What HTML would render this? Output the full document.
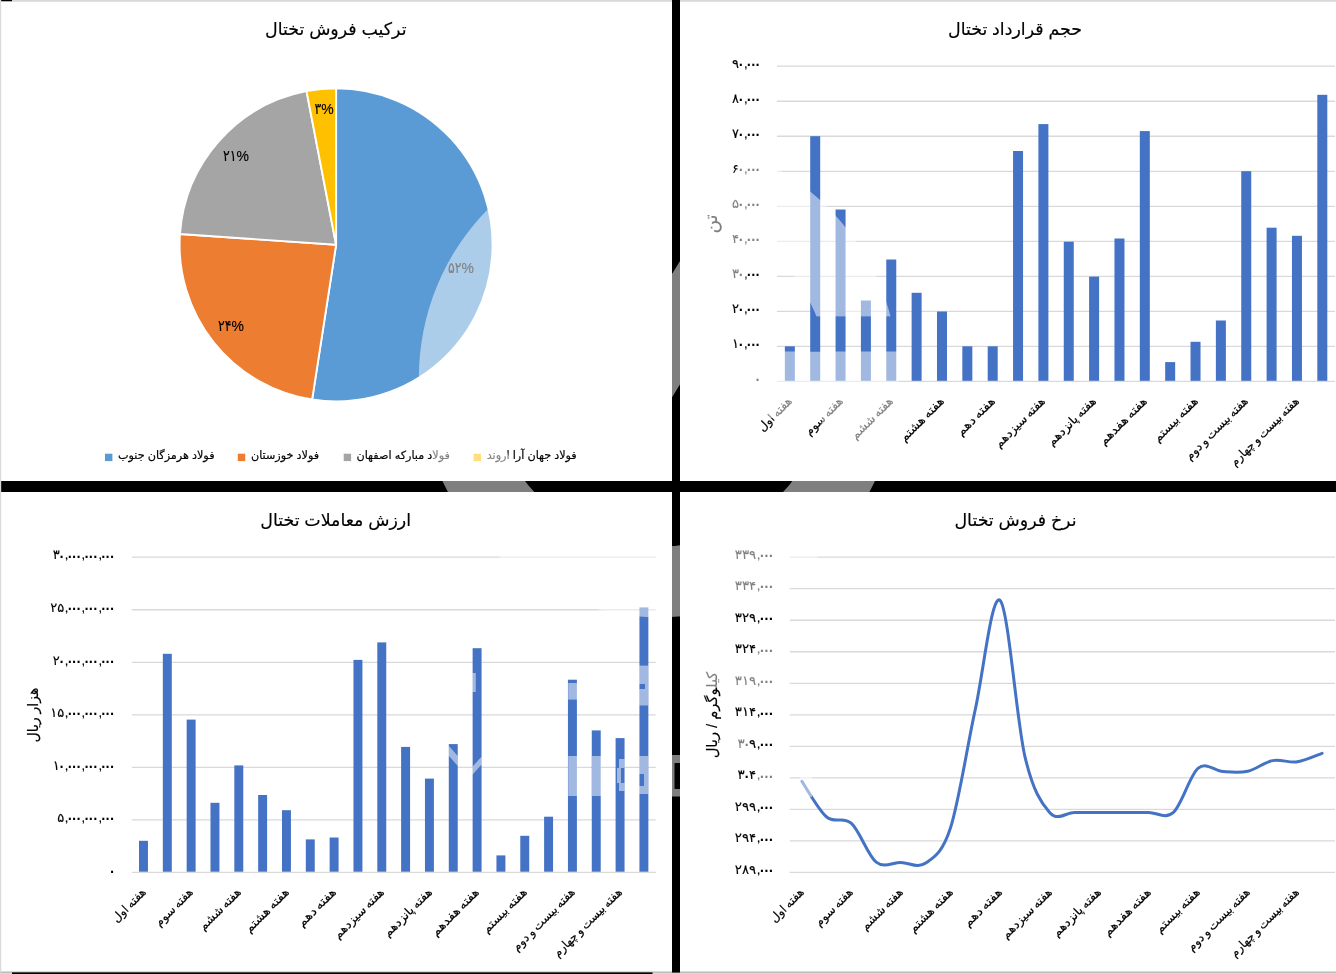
<!DOCTYPE html>
<html lang="fa"><head><meta charset="utf-8"><title>تختال</title>
<style>
html,body{margin:0;padding:0;background:#000;}
body{width:1336px;height:974px;position:relative;overflow:hidden;font-family:'Liberation Sans','DejaVu Sans',sans-serif;}
svg{position:absolute;left:0;top:0;}
.t{position:absolute;white-space:nowrap;line-height:1;font-family:'Liberation Sans','DejaVu Sans',sans-serif;-webkit-text-stroke:.17px currentColor;}
.c{transform:translate(-50%,-50%);}
.p{transform:translate(-50%,-50%) scaleX(.9);font-family:'Liberation Sans','DejaVu Sans Condensed',sans-serif;}
.r{transform-origin:100% 50%;}
.n{display:inline-block;width:7px;text-indent:-.6px;}
.z{display:inline-block;width:4.4px;font-size:1.45em;line-height:0;position:relative;top:2.3px;text-indent:-3.8px;-webkit-text-stroke:0;}
.l{transform:translate(0,-50%);}
.d{word-spacing:-1px;transform:translate(-100%,-50%) rotate(-45deg);transform-origin:100% 50%;}
.v{transform:translate(-50%,-50%) rotate(-90deg);}
#wm{pointer-events:none;}
</style></head><body>
<svg width="1336" height="974" viewBox="0 0 1336 974">
<rect x="0.00" y="0.00" width="672.00" height="481.00" fill="#fff" />
<rect x="680.00" y="0.00" width="656.00" height="481.00" fill="#fff" />
<rect x="0.00" y="492.00" width="672.00" height="480.40" fill="#fff" />
<rect x="680.00" y="492.00" width="656.00" height="480.40" fill="#fff" />
<rect x="0.00" y="0.00" width="1336.00" height="1.80" fill="#d9d9d9" />
<rect x="0.00" y="0.00" width="12.00" height="1.20" fill="#000" />
<rect x="0.00" y="0.00" width="1.20" height="972.40" fill="#d9d9d9" />
<rect x="0.00" y="971.00" width="672.00" height="1.40" fill="#d9d9d9" />
<rect x="680.00" y="971.00" width="656.00" height="1.40" fill="#d9d9d9" />
<rect x="0.00" y="972.40" width="1336.00" height="1.60" fill="#d9d9d9" />
<rect x="12.00" y="972.40" width="640.50" height="1.60" fill="#000" />
<rect x="672.00" y="0.00" width="8.00" height="972.40" fill="#000" />
<path d="M336.10,244.80 L336.10,88.30 A156.5,156.5 0 1 1 312.16,399.46 Z" fill="#5b9bd5" stroke="#fff" stroke-width="1.9" stroke-linejoin="round"/>
<path d="M336.10,244.80 L312.16,399.46 A156.5,156.5 0 0 1 179.97,234.02 Z" fill="#ed7d31" stroke="#fff" stroke-width="1.9" stroke-linejoin="round"/>
<path d="M336.10,244.80 L179.97,234.02 A156.5,156.5 0 0 1 306.51,91.12 Z" fill="#a5a5a5" stroke="#fff" stroke-width="1.9" stroke-linejoin="round"/>
<path d="M336.10,244.80 L306.51,91.12 A156.5,156.5 0 0 1 336.10,88.30 Z" fill="#ffc000" stroke="#fff" stroke-width="1.9" stroke-linejoin="round"/>
<rect x="105.00" y="453.70" width="7.40" height="7.40" fill="#5b9bd5" />
<rect x="237.80" y="453.70" width="7.40" height="7.40" fill="#ed7d31" />
<rect x="343.70" y="453.70" width="7.40" height="7.40" fill="#a5a5a5" />
<rect x="473.60" y="453.70" width="7.40" height="7.40" fill="#ffc000" />
<line x1="776.90" x2="1335.00" y1="381.40" y2="381.40" stroke="#d9d9d9" stroke-width="1.3"/>
<line x1="776.90" x2="1335.00" y1="346.38" y2="346.38" stroke="#d9d9d9" stroke-width="1.3"/>
<line x1="776.90" x2="1335.00" y1="311.36" y2="311.36" stroke="#d9d9d9" stroke-width="1.3"/>
<line x1="776.90" x2="1335.00" y1="276.34" y2="276.34" stroke="#d9d9d9" stroke-width="1.3"/>
<line x1="776.90" x2="1335.00" y1="241.32" y2="241.32" stroke="#d9d9d9" stroke-width="1.3"/>
<line x1="776.90" x2="1335.00" y1="206.30" y2="206.30" stroke="#d9d9d9" stroke-width="1.3"/>
<line x1="776.90" x2="1335.00" y1="171.28" y2="171.28" stroke="#d9d9d9" stroke-width="1.3"/>
<line x1="776.90" x2="1335.00" y1="136.26" y2="136.26" stroke="#d9d9d9" stroke-width="1.3"/>
<line x1="776.90" x2="1335.00" y1="101.24" y2="101.24" stroke="#d9d9d9" stroke-width="1.3"/>
<line x1="776.90" x2="1335.00" y1="66.22" y2="66.22" stroke="#d9d9d9" stroke-width="1.3"/>
<rect x="784.85" y="346.30" width="10.00" height="34.50" fill="#4472c4" />
<rect x="810.21" y="136.20" width="10.00" height="244.60" fill="#4472c4" />
<rect x="835.56" y="209.50" width="10.00" height="171.30" fill="#4472c4" />
<rect x="860.91" y="300.50" width="10.00" height="80.30" fill="#4472c4" />
<rect x="886.27" y="259.50" width="10.00" height="121.30" fill="#4472c4" />
<rect x="911.62" y="292.80" width="10.00" height="88.00" fill="#4472c4" />
<rect x="936.98" y="311.50" width="10.00" height="69.30" fill="#4472c4" />
<rect x="962.34" y="346.30" width="10.00" height="34.50" fill="#4472c4" />
<rect x="987.69" y="346.30" width="10.00" height="34.50" fill="#4472c4" />
<rect x="1013.05" y="151.00" width="10.00" height="229.80" fill="#4472c4" />
<rect x="1038.40" y="124.10" width="10.00" height="256.70" fill="#4472c4" />
<rect x="1063.76" y="241.70" width="10.00" height="139.10" fill="#4472c4" />
<rect x="1089.11" y="276.60" width="10.00" height="104.20" fill="#4472c4" />
<rect x="1114.47" y="238.50" width="10.00" height="142.30" fill="#4472c4" />
<rect x="1139.82" y="131.10" width="10.00" height="249.70" fill="#4472c4" />
<rect x="1165.17" y="362.10" width="10.00" height="18.70" fill="#4472c4" />
<rect x="1190.53" y="341.80" width="10.00" height="39.00" fill="#4472c4" />
<rect x="1215.88" y="320.50" width="10.00" height="60.30" fill="#4472c4" />
<rect x="1241.24" y="171.20" width="10.00" height="209.60" fill="#4472c4" />
<rect x="1266.60" y="227.70" width="10.00" height="153.10" fill="#4472c4" />
<rect x="1291.95" y="235.80" width="10.00" height="145.00" fill="#4472c4" />
<rect x="1317.31" y="94.80" width="10.00" height="286.00" fill="#4472c4" />
<line x1="131.80" x2="655.80" y1="872.40" y2="872.40" stroke="#d9d9d9" stroke-width="1.3"/>
<line x1="131.80" x2="655.80" y1="819.87" y2="819.87" stroke="#d9d9d9" stroke-width="1.3"/>
<line x1="131.80" x2="655.80" y1="767.34" y2="767.34" stroke="#d9d9d9" stroke-width="1.3"/>
<line x1="131.80" x2="655.80" y1="714.81" y2="714.81" stroke="#d9d9d9" stroke-width="1.3"/>
<line x1="131.80" x2="655.80" y1="662.28" y2="662.28" stroke="#d9d9d9" stroke-width="1.3"/>
<line x1="131.80" x2="655.80" y1="609.75" y2="609.75" stroke="#d9d9d9" stroke-width="1.3"/>
<line x1="131.80" x2="655.80" y1="557.22" y2="557.22" stroke="#d9d9d9" stroke-width="1.3"/>
<rect x="139.00" y="840.80" width="8.95" height="30.90" fill="#4472c4" />
<rect x="162.83" y="653.80" width="8.95" height="217.90" fill="#4472c4" />
<rect x="186.66" y="719.60" width="8.95" height="152.10" fill="#4472c4" />
<rect x="210.49" y="802.80" width="8.95" height="68.90" fill="#4472c4" />
<rect x="234.32" y="765.40" width="8.95" height="106.30" fill="#4472c4" />
<rect x="258.15" y="795.00" width="8.95" height="76.70" fill="#4472c4" />
<rect x="281.98" y="810.20" width="8.95" height="61.50" fill="#4472c4" />
<rect x="305.81" y="839.40" width="8.95" height="32.30" fill="#4472c4" />
<rect x="329.64" y="837.50" width="8.95" height="34.20" fill="#4472c4" />
<rect x="353.47" y="659.90" width="8.95" height="211.80" fill="#4472c4" />
<rect x="377.30" y="642.40" width="8.95" height="229.30" fill="#4472c4" />
<rect x="401.13" y="746.90" width="8.95" height="124.80" fill="#4472c4" />
<rect x="424.96" y="778.60" width="8.95" height="93.10" fill="#4472c4" />
<rect x="448.79" y="744.10" width="8.95" height="127.60" fill="#4472c4" />
<rect x="472.62" y="648.20" width="8.95" height="223.50" fill="#4472c4" />
<rect x="496.45" y="855.40" width="8.95" height="16.30" fill="#4472c4" />
<rect x="520.28" y="835.80" width="8.95" height="35.90" fill="#4472c4" />
<rect x="544.11" y="816.70" width="8.95" height="55.00" fill="#4472c4" />
<rect x="567.94" y="679.70" width="8.95" height="192.00" fill="#4472c4" />
<rect x="591.77" y="730.40" width="8.95" height="141.30" fill="#4472c4" />
<rect x="615.60" y="738.10" width="8.95" height="133.60" fill="#4472c4" />
<rect x="639.43" y="607.40" width="8.95" height="264.30" fill="#4472c4" />
<line x1="789.70" x2="1335.00" y1="872.40" y2="872.40" stroke="#d9d9d9" stroke-width="1.3"/>
<line x1="789.70" x2="1335.00" y1="840.88" y2="840.88" stroke="#d9d9d9" stroke-width="1.3"/>
<line x1="789.70" x2="1335.00" y1="809.36" y2="809.36" stroke="#d9d9d9" stroke-width="1.3"/>
<line x1="789.70" x2="1335.00" y1="777.84" y2="777.84" stroke="#d9d9d9" stroke-width="1.3"/>
<line x1="789.70" x2="1335.00" y1="746.32" y2="746.32" stroke="#d9d9d9" stroke-width="1.3"/>
<line x1="789.70" x2="1335.00" y1="714.80" y2="714.80" stroke="#d9d9d9" stroke-width="1.3"/>
<line x1="789.70" x2="1335.00" y1="683.28" y2="683.28" stroke="#d9d9d9" stroke-width="1.3"/>
<line x1="789.70" x2="1335.00" y1="651.76" y2="651.76" stroke="#d9d9d9" stroke-width="1.3"/>
<line x1="789.70" x2="1335.00" y1="620.24" y2="620.24" stroke="#d9d9d9" stroke-width="1.3"/>
<line x1="789.70" x2="1335.00" y1="588.72" y2="588.72" stroke="#d9d9d9" stroke-width="1.3"/>
<line x1="789.70" x2="1335.00" y1="557.20" y2="557.20" stroke="#d9d9d9" stroke-width="1.3"/>
<path d="M801.90,781.30 C806.03,787.25 818.41,809.98 826.67,817.00 C834.93,824.02 843.18,815.88 851.44,823.40 C859.70,830.92 867.95,855.60 876.21,862.10 C884.47,868.60 892.72,862.23 900.98,862.40 C909.24,862.57 917.49,868.87 925.75,863.10 C934.01,857.33 942.26,853.42 950.52,827.80 C958.78,802.18 967.03,747.30 975.29,709.40 C983.55,671.50 991.80,592.62 1000.06,600.40 C1008.32,608.18 1016.57,720.77 1024.83,756.10 C1033.09,791.43 1041.34,803.02 1049.60,812.40 C1057.86,821.78 1066.11,812.40 1074.37,812.40 C1082.63,812.40 1090.88,812.40 1099.14,812.40 C1107.40,812.40 1115.65,812.40 1123.91,812.40 C1132.17,812.40 1140.42,812.40 1148.68,812.40 C1156.94,812.40 1165.19,819.77 1173.45,812.40 C1181.71,805.03 1189.96,775.00 1198.22,768.20 C1206.48,761.40 1214.73,771.10 1222.99,771.60 C1231.25,772.10 1239.50,773.03 1247.76,771.20 C1256.02,769.37 1264.27,762.17 1272.53,760.60 C1280.79,759.03 1289.04,763.02 1297.30,761.80 C1305.56,760.58 1317.94,754.72 1322.07,753.30" fill="none" stroke="#4472c4" stroke-width="3.0" stroke-linecap="round" stroke-linejoin="round"/>
</svg>
<div class="t c " dir="rtl" style="left:335.8px;top:30.1px;font-size:17.4px;color:#000">ترکیب فروش تختال</div>
<div class="t c p" dir="ltr" style="left:460.6px;top:268.4px;font-size:15.5px;color:#000">۵۲%</div>
<div class="t c p" dir="ltr" style="left:231.0px;top:325.8px;font-size:15.5px;color:#000">۲۴%</div>
<div class="t c p" dir="ltr" style="left:236.2px;top:156.4px;font-size:15.5px;color:#000">۲۱%</div>
<div class="t c p" dir="ltr" style="left:323.7px;top:109.4px;font-size:15.5px;color:#000">۳%</div>
<div class="t l" dir="rtl" style="left:118.0px;top:455.6px;font-size:11.2px;color:#000">فولاد هرمزگان جنوب</div>
<div class="t l" dir="rtl" style="left:251.0px;top:455.6px;font-size:11.2px;color:#000">فولاد خوزستان</div>
<div class="t l" dir="rtl" style="left:356.5px;top:455.6px;font-size:11.2px;color:#000">فولاد مبارکه اصفهان</div>
<div class="t l" dir="rtl" style="left:486.7px;top:455.6px;font-size:11.2px;color:#000">فولاد جهان آرا اروند</div>
<div class="t c " dir="rtl" style="left:1015.0px;top:30.1px;font-size:17.4px;color:#000">حجم قرارداد تختال</div>
<div class="t r" dir="ltr" style="left:760.8px;top:377.8px;font-size:13px;transform:translate(-100%,-50%) scaleX(1.0)"><span class="z">۰</span></div>
<div class="t r" dir="ltr" style="left:760.8px;top:342.8px;font-size:13px;transform:translate(-100%,-50%) scaleX(1.0)"><span class="n">۱</span><span class="z">۰</span>,<span class="z">۰</span><span class="z">۰</span><span class="z">۰</span></div>
<div class="t r" dir="ltr" style="left:760.8px;top:307.8px;font-size:13px;transform:translate(-100%,-50%) scaleX(1.0)"><span class="n">۲</span><span class="z">۰</span>,<span class="z">۰</span><span class="z">۰</span><span class="z">۰</span></div>
<div class="t r" dir="ltr" style="left:760.8px;top:272.7px;font-size:13px;transform:translate(-100%,-50%) scaleX(1.0)"><span class="n">۳</span><span class="z">۰</span>,<span class="z">۰</span><span class="z">۰</span><span class="z">۰</span></div>
<div class="t r" dir="ltr" style="left:760.8px;top:237.7px;font-size:13px;transform:translate(-100%,-50%) scaleX(1.0)"><span class="n">۴</span><span class="z">۰</span>,<span class="z">۰</span><span class="z">۰</span><span class="z">۰</span></div>
<div class="t r" dir="ltr" style="left:760.8px;top:202.7px;font-size:13px;transform:translate(-100%,-50%) scaleX(1.0)"><span class="n">۵</span><span class="z">۰</span>,<span class="z">۰</span><span class="z">۰</span><span class="z">۰</span></div>
<div class="t r" dir="ltr" style="left:760.8px;top:167.7px;font-size:13px;transform:translate(-100%,-50%) scaleX(1.0)"><span class="n">۶</span><span class="z">۰</span>,<span class="z">۰</span><span class="z">۰</span><span class="z">۰</span></div>
<div class="t r" dir="ltr" style="left:760.8px;top:132.7px;font-size:13px;transform:translate(-100%,-50%) scaleX(1.0)"><span class="n">۷</span><span class="z">۰</span>,<span class="z">۰</span><span class="z">۰</span><span class="z">۰</span></div>
<div class="t r" dir="ltr" style="left:760.8px;top:97.6px;font-size:13px;transform:translate(-100%,-50%) scaleX(1.0)"><span class="n">۸</span><span class="z">۰</span>,<span class="z">۰</span><span class="z">۰</span><span class="z">۰</span></div>
<div class="t r" dir="ltr" style="left:760.8px;top:62.6px;font-size:13px;transform:translate(-100%,-50%) scaleX(1.0)"><span class="n">۹</span><span class="z">۰</span>,<span class="z">۰</span><span class="z">۰</span><span class="z">۰</span></div>
<div class="t d" dir="rtl" style="left:789.9px;top:399.0px;font-size:12px;transform:translate(-100%,-50%) rotate(-45deg) scaleX(1.0)">هفته اول</div>
<div class="t d" dir="rtl" style="left:840.6px;top:399.0px;font-size:12px;transform:translate(-100%,-50%) rotate(-45deg) scaleX(1.0)">هفته سوم</div>
<div class="t d" dir="rtl" style="left:891.3px;top:399.0px;font-size:12px;transform:translate(-100%,-50%) rotate(-45deg) scaleX(1.01)">هفته ششم</div>
<div class="t d" dir="rtl" style="left:942.0px;top:399.0px;font-size:12px;transform:translate(-100%,-50%) rotate(-45deg) scaleX(1.07)">هفته هشتم</div>
<div class="t d" dir="rtl" style="left:992.7px;top:399.0px;font-size:12px;transform:translate(-100%,-50%) rotate(-45deg) scaleX(1.1)">هفته دهم</div>
<div class="t d" dir="rtl" style="left:1043.4px;top:399.0px;font-size:12px;transform:translate(-100%,-50%) rotate(-45deg) scaleX(1.02)">هفته سیزدهم</div>
<div class="t d" dir="rtl" style="left:1094.1px;top:399.0px;font-size:12px;transform:translate(-100%,-50%) rotate(-45deg) scaleX(1.03)">هفته پانزدهم</div>
<div class="t d" dir="rtl" style="left:1144.8px;top:399.0px;font-size:12px;transform:translate(-100%,-50%) rotate(-45deg) scaleX(1.075)">هفته هفدهم</div>
<div class="t d" dir="rtl" style="left:1195.5px;top:399.0px;font-size:12px;transform:translate(-100%,-50%) rotate(-45deg) scaleX(1.07)">هفته بیستم</div>
<div class="t d" dir="rtl" style="left:1246.2px;top:399.0px;font-size:12px;transform:translate(-100%,-50%) rotate(-45deg) scaleX(1.0)">هفته بیست و دوم</div>
<div class="t d" dir="rtl" style="left:1296.9px;top:399.0px;font-size:12px;transform:translate(-100%,-50%) rotate(-45deg) scaleX(0.97)">هفته بیست و چهارم</div>
<div class="t v" dir="rtl" style="left:711.2px;top:223.5px;font-size:18.5px;color:#000">تن</div>
<div class="t c " dir="rtl" style="left:335.7px;top:521.1px;font-size:17.4px;color:#000">ارزش معاملات تختال</div>
<div class="t r" dir="ltr" style="left:115.2px;top:869.6px;font-size:13px;transform:translate(-100%,-50%) scaleX(1.0)"><span class="z">۰</span></div>
<div class="t r" dir="ltr" style="left:115.2px;top:817.1px;font-size:13px;transform:translate(-100%,-50%) scaleX(1.0)"><span class="n">۵</span>,<span class="z">۰</span><span class="z">۰</span><span class="z">۰</span>,<span class="z">۰</span><span class="z">۰</span><span class="z">۰</span>,<span class="z">۰</span><span class="z">۰</span><span class="z">۰</span></div>
<div class="t r" dir="ltr" style="left:115.2px;top:764.5px;font-size:13px;transform:translate(-100%,-50%) scaleX(1.0)"><span class="n">۱</span><span class="z">۰</span>,<span class="z">۰</span><span class="z">۰</span><span class="z">۰</span>,<span class="z">۰</span><span class="z">۰</span><span class="z">۰</span>,<span class="z">۰</span><span class="z">۰</span><span class="z">۰</span></div>
<div class="t r" dir="ltr" style="left:115.2px;top:712.0px;font-size:13px;transform:translate(-100%,-50%) scaleX(1.0)"><span class="n">۱</span><span class="n">۵</span>,<span class="z">۰</span><span class="z">۰</span><span class="z">۰</span>,<span class="z">۰</span><span class="z">۰</span><span class="z">۰</span>,<span class="z">۰</span><span class="z">۰</span><span class="z">۰</span></div>
<div class="t r" dir="ltr" style="left:115.2px;top:659.5px;font-size:13px;transform:translate(-100%,-50%) scaleX(1.0)"><span class="n">۲</span><span class="z">۰</span>,<span class="z">۰</span><span class="z">۰</span><span class="z">۰</span>,<span class="z">۰</span><span class="z">۰</span><span class="z">۰</span>,<span class="z">۰</span><span class="z">۰</span><span class="z">۰</span></div>
<div class="t r" dir="ltr" style="left:115.2px;top:607.0px;font-size:13px;transform:translate(-100%,-50%) scaleX(1.0)"><span class="n">۲</span><span class="n">۵</span>,<span class="z">۰</span><span class="z">۰</span><span class="z">۰</span>,<span class="z">۰</span><span class="z">۰</span><span class="z">۰</span>,<span class="z">۰</span><span class="z">۰</span><span class="z">۰</span></div>
<div class="t r" dir="ltr" style="left:115.2px;top:554.4px;font-size:13px;transform:translate(-100%,-50%) scaleX(1.0)"><span class="n">۳</span><span class="z">۰</span>,<span class="z">۰</span><span class="z">۰</span><span class="z">۰</span>,<span class="z">۰</span><span class="z">۰</span><span class="z">۰</span>,<span class="z">۰</span><span class="z">۰</span><span class="z">۰</span></div>
<div class="t d" dir="rtl" style="left:143.6px;top:889.6px;font-size:12px;transform:translate(-100%,-50%) rotate(-45deg) scaleX(1.0)">هفته اول</div>
<div class="t d" dir="rtl" style="left:191.3px;top:889.6px;font-size:12px;transform:translate(-100%,-50%) rotate(-45deg) scaleX(1.0)">هفته سوم</div>
<div class="t d" dir="rtl" style="left:238.9px;top:889.6px;font-size:12px;transform:translate(-100%,-50%) rotate(-45deg) scaleX(1.01)">هفته ششم</div>
<div class="t d" dir="rtl" style="left:286.6px;top:889.6px;font-size:12px;transform:translate(-100%,-50%) rotate(-45deg) scaleX(1.07)">هفته هشتم</div>
<div class="t d" dir="rtl" style="left:334.2px;top:889.6px;font-size:12px;transform:translate(-100%,-50%) rotate(-45deg) scaleX(1.1)">هفته دهم</div>
<div class="t d" dir="rtl" style="left:381.9px;top:889.6px;font-size:12px;transform:translate(-100%,-50%) rotate(-45deg) scaleX(1.02)">هفته سیزدهم</div>
<div class="t d" dir="rtl" style="left:429.6px;top:889.6px;font-size:12px;transform:translate(-100%,-50%) rotate(-45deg) scaleX(1.03)">هفته پانزدهم</div>
<div class="t d" dir="rtl" style="left:477.2px;top:889.6px;font-size:12px;transform:translate(-100%,-50%) rotate(-45deg) scaleX(1.075)">هفته هفدهم</div>
<div class="t d" dir="rtl" style="left:524.9px;top:889.6px;font-size:12px;transform:translate(-100%,-50%) rotate(-45deg) scaleX(1.07)">هفته بیستم</div>
<div class="t d" dir="rtl" style="left:572.5px;top:889.6px;font-size:12px;transform:translate(-100%,-50%) rotate(-45deg) scaleX(1.0)">هفته بیست و دوم</div>
<div class="t d" dir="rtl" style="left:620.2px;top:889.6px;font-size:12px;transform:translate(-100%,-50%) rotate(-45deg) scaleX(0.97)">هفته بیست و چهارم</div>
<div class="t v" dir="rtl" style="left:33.0px;top:714.5px;font-size:14px;color:#000">هزار ریال</div>
<div class="t c " dir="rtl" style="left:1015.5px;top:521.1px;font-size:17.4px;color:#000">نرخ فروش تختال</div>
<div class="t r" dir="ltr" style="left:773.6px;top:868.9px;font-size:13px;transform:translate(-100%,-50%) scaleX(1.02)"><span class="n">۲</span><span class="n">۸</span><span class="n">۹</span>,<span class="z">۰</span><span class="z">۰</span><span class="z">۰</span></div>
<div class="t r" dir="ltr" style="left:773.6px;top:837.4px;font-size:13px;transform:translate(-100%,-50%) scaleX(1.02)"><span class="n">۲</span><span class="n">۹</span><span class="n">۴</span>,<span class="z">۰</span><span class="z">۰</span><span class="z">۰</span></div>
<div class="t r" dir="ltr" style="left:773.6px;top:805.9px;font-size:13px;transform:translate(-100%,-50%) scaleX(1.02)"><span class="n">۲</span><span class="n">۹</span><span class="n">۹</span>,<span class="z">۰</span><span class="z">۰</span><span class="z">۰</span></div>
<div class="t r" dir="ltr" style="left:773.6px;top:774.3px;font-size:13px;transform:translate(-100%,-50%) scaleX(1.02)"><span class="n">۳</span><span class="z">۰</span><span class="n">۴</span>,<span class="z">۰</span><span class="z">۰</span><span class="z">۰</span></div>
<div class="t r" dir="ltr" style="left:773.6px;top:742.8px;font-size:13px;transform:translate(-100%,-50%) scaleX(1.02)"><span class="n">۳</span><span class="z">۰</span><span class="n">۹</span>,<span class="z">۰</span><span class="z">۰</span><span class="z">۰</span></div>
<div class="t r" dir="ltr" style="left:773.6px;top:711.3px;font-size:13px;transform:translate(-100%,-50%) scaleX(1.02)"><span class="n">۳</span><span class="n">۱</span><span class="n">۴</span>,<span class="z">۰</span><span class="z">۰</span><span class="z">۰</span></div>
<div class="t r" dir="ltr" style="left:773.6px;top:679.8px;font-size:13px;transform:translate(-100%,-50%) scaleX(1.02)"><span class="n">۳</span><span class="n">۱</span><span class="n">۹</span>,<span class="z">۰</span><span class="z">۰</span><span class="z">۰</span></div>
<div class="t r" dir="ltr" style="left:773.6px;top:648.3px;font-size:13px;transform:translate(-100%,-50%) scaleX(1.02)"><span class="n">۳</span><span class="n">۲</span><span class="n">۴</span>,<span class="z">۰</span><span class="z">۰</span><span class="z">۰</span></div>
<div class="t r" dir="ltr" style="left:773.6px;top:616.7px;font-size:13px;transform:translate(-100%,-50%) scaleX(1.02)"><span class="n">۳</span><span class="n">۲</span><span class="n">۹</span>,<span class="z">۰</span><span class="z">۰</span><span class="z">۰</span></div>
<div class="t r" dir="ltr" style="left:773.6px;top:585.2px;font-size:13px;transform:translate(-100%,-50%) scaleX(1.02)"><span class="n">۳</span><span class="n">۳</span><span class="n">۴</span>,<span class="z">۰</span><span class="z">۰</span><span class="z">۰</span></div>
<div class="t r" dir="ltr" style="left:773.6px;top:553.7px;font-size:13px;transform:translate(-100%,-50%) scaleX(1.02)"><span class="n">۳</span><span class="n">۳</span><span class="n">۹</span>,<span class="z">۰</span><span class="z">۰</span><span class="z">۰</span></div>
<div class="t d" dir="rtl" style="left:801.9px;top:889.6px;font-size:12px;transform:translate(-100%,-50%) rotate(-45deg) scaleX(1.0)">هفته اول</div>
<div class="t d" dir="rtl" style="left:851.4px;top:889.6px;font-size:12px;transform:translate(-100%,-50%) rotate(-45deg) scaleX(1.0)">هفته سوم</div>
<div class="t d" dir="rtl" style="left:901.0px;top:889.6px;font-size:12px;transform:translate(-100%,-50%) rotate(-45deg) scaleX(1.01)">هفته ششم</div>
<div class="t d" dir="rtl" style="left:950.5px;top:889.6px;font-size:12px;transform:translate(-100%,-50%) rotate(-45deg) scaleX(1.07)">هفته هشتم</div>
<div class="t d" dir="rtl" style="left:1000.1px;top:889.6px;font-size:12px;transform:translate(-100%,-50%) rotate(-45deg) scaleX(1.1)">هفته دهم</div>
<div class="t d" dir="rtl" style="left:1049.6px;top:889.6px;font-size:12px;transform:translate(-100%,-50%) rotate(-45deg) scaleX(1.02)">هفته سیزدهم</div>
<div class="t d" dir="rtl" style="left:1099.1px;top:889.6px;font-size:12px;transform:translate(-100%,-50%) rotate(-45deg) scaleX(1.03)">هفته پانزدهم</div>
<div class="t d" dir="rtl" style="left:1148.7px;top:889.6px;font-size:12px;transform:translate(-100%,-50%) rotate(-45deg) scaleX(1.075)">هفته هفدهم</div>
<div class="t d" dir="rtl" style="left:1198.2px;top:889.6px;font-size:12px;transform:translate(-100%,-50%) rotate(-45deg) scaleX(1.07)">هفته بیستم</div>
<div class="t d" dir="rtl" style="left:1247.8px;top:889.6px;font-size:12px;transform:translate(-100%,-50%) rotate(-45deg) scaleX(1.0)">هفته بیست و دوم</div>
<div class="t d" dir="rtl" style="left:1297.3px;top:889.6px;font-size:12px;transform:translate(-100%,-50%) rotate(-45deg) scaleX(0.97)">هفته بیست و چهارم</div>
<div class="t v" dir="rtl" style="left:712.0px;top:714.5px;font-size:14.7px;color:#000">کیلوگرم / ریال</div>
<svg id="wm" width="1336" height="974" viewBox="0 0 1336 974">
<defs>
<clipPath id="oc"><circle cx="658.7" cy="377.5" r="239.8"/></clipPath>
<mask id="cut" maskUnits="userSpaceOnUse" x="0" y="0" width="1336" height="974">
<rect x="0" y="0" width="1336" height="974" fill="#fff"/>
<polygon points="600,100 778.9,100 672,273.7 600,390.7" fill="#000"/>
<rect x="800" y="316.4" width="120" height="35.1" fill="#000"/>
</mask></defs>
<g fill="#fff" opacity="0.5" mask="url(#cut)"><path fill-rule="evenodd" d="M418.90000000000003,377.5 a239.8,239.8 0 1 0 479.6,0 a239.8,239.8 0 1 0 -479.6,0 Z M489.50000000000006,377.5 a169.2,169.2 0 1 0 338.4,0 a169.2,169.2 0 1 0 -338.4,0 Z"/>
<g clip-path="url(#oc)">
<polygon points="583.2,418.0 778.9,100.0 855.0,100.0 659.3,418.0"/>
<rect x="700.0" y="351.5" width="205.0" height="66.5"/>
</g>
<polygon points="448.5,745.4 457.8,756.0 457.8,766.0 448.5,755.5"/>
<polygon points="472.2,767.0 481.6,756.5 481.6,764.5 472.2,775.0"/>
<rect x="472.2" y="673.0" width="3.6" height="19.0"/>
<rect x="568.2" y="683.0" width="9.1" height="16.6"/>
<rect x="568.2" y="756.0" width="9.1" height="40.0"/>
<rect x="592.0" y="756.0" width="9.3" height="40.0"/>
<rect x="619.0" y="759.0" width="5.6" height="9.0"/>
<rect x="617.0" y="768.0" width="4.0" height="15.0"/>
<rect x="619.0" y="783.0" width="5.6" height="8.0"/>
<rect x="639.2" y="665.6" width="9.2" height="18.4"/>
<rect x="645.0" y="684.0" width="3.4" height="5.0"/>
<rect x="639.2" y="689.0" width="9.2" height="16.5"/>
<rect x="639.2" y="756.0" width="9.2" height="18.0"/>
<rect x="644.0" y="774.0" width="4.4" height="12.0"/>
<rect x="639.2" y="786.0" width="9.2" height="8.0"/>
<rect x="672.0" y="755.0" width="8.0" height="8.0"/>
<rect x="672.0" y="763.0" width="2.5" height="26.0"/>
<rect x="672.0" y="789.0" width="8.0" height="7.5"/>
<rect x="755.5" y="644.0" width="17.5" height="14.0"/>
<rect x="731.0" y="675.0" width="42.0" height="15.0"/>
<rect x="731.0" y="738.0" width="17.0" height="15.0"/>
<rect x="757.0" y="770.0" width="16.0" height="14.0"/>
<rect x="703.0" y="666.0" width="19.0" height="22.0"/>
<rect x="800.0" y="777.0" width="12.0" height="20.0"/></g>
</svg>
</body></html>
